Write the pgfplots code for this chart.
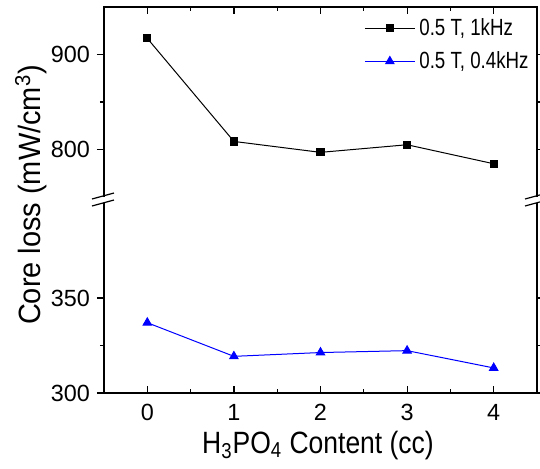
\documentclass[border=0pt]{standalone}
\usepackage{pgfplots}
\pgfplotsset{compat=1.18}
\usepackage{fontspec}
\setmainfont{Liberation Sans}
\newfontfamily\legfont[FakeStretch=0.8]{Liberation Sans}
\newfontfamily\xlabfont[FakeStretch=0.86]{Liberation Sans}
\newfontfamily\ylabfont[FakeStretch=0.94]{Liberation Sans}

\newcommand{\ticksize}{\fontsize{11.7}{14}\selectfont}
\newcommand{\labsize}{\fontsize{15.4}{18}\selectfont}

\begin{document}
\begin{tikzpicture}
\useasboundingbox (-52pt,-37.5pt) rectangle (218pt,196.5pt);
\pgfplotsset{
  brk/.style={
    width=216.5pt, height=95pt, scale only axis,
    xmin=-0.5, xmax=4.5,
    xtick={0,1,2,3,4}, minor x tick num=1,
    minor y tick num=1,
    axis line style={draw=none},
    clip=false,
    xtick align=inside, ytick align=outside,
    major tick length=3.5pt, minor tick length=2pt,
    every tick/.style={black, line width=0.6pt},
    tick label style={font=\ticksize},
    /pgf/number format/assume math mode=true,
    yticklabel pos=left,
  },
}

% upper part (1 kHz)
\begin{axis}[brk, at={(0,98pt)}, anchor=south west,
    ymin=750, ymax=950, ytick={800,900},
    xtick pos=right, xticklabels={},
    legend style={at={(1,1)}, anchor=north east, draw=none, fill=none,
      font=\legfont\ticksize, inner sep=1pt, xshift=-1pt, yshift=-2.5pt,
      row sep=2.5pt},
    legend cell align=left,
    legend image code/.code={
      \draw[mark repeat=2, mark phase=2] plot coordinates {(0pt,0pt) (12.5pt,0pt) (25pt,0pt)};},
  ]
\addplot[black, line width=0.5pt, mark=square*, mark size=1.8pt] coordinates {
  (0, 917) (1, 808.5) (2, 797) (3, 805) (4, 785)
};
\addlegendentry{0.5 T, 1kHz}
\addlegendimage{blue, line width=0.5pt, mark=triangle*, mark size=2.4pt}
\addlegendentry{0.5 T, 0.4kHz}
\draw[line width=1pt] (rel axis cs:0,0) -- (rel axis cs:0,1) -- (rel axis cs:1,1) -- (rel axis cs:1,0);
\end{axis}

% lower part (0.4 kHz)
\begin{axis}[brk, at={(0,0)}, anchor=south west,
    ymin=300, ymax=400, ytick={300,350},
    xtick pos=left,
    xticklabel style={yshift=-2pt},
  ]
\addplot[blue, line width=0.5pt, mark=triangle*, mark size=2.4pt] coordinates {
  (0, 337) (1, 319.3) (2, 321.3) (3, 322.3) (4, 313.2)
};
\draw[line width=1pt] (rel axis cs:0,1) -- (rel axis cs:0,0) -- (rel axis cs:1,0) -- (rel axis cs:1,1);
\end{axis}

% axis break marks
\foreach \xx in {0pt,216.5pt}{
  \draw[line width=0.6pt] ([xshift=\xx]-6pt,93.5pt) -- ([xshift=\xx]5pt,96.5pt);
  \draw[line width=0.6pt] ([xshift=\xx]-6pt,97pt) -- ([xshift=\xx]5pt,100pt);
}

\node[rotate=90, font=\ylabfont\labsize] at (-36.5pt,99pt) {Core loss (mW/cm\textsuperscript{3})};
\node[anchor=base, font=\xlabfont\labsize] at (107pt,-30pt) {H\textsubscript{3}PO\textsubscript{4} Content (cc)};
\end{tikzpicture}
\end{document}
